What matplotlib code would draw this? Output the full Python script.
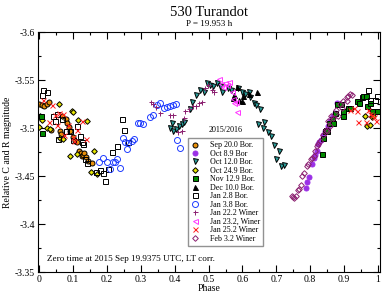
import numpy as np
import matplotlib
matplotlib.use("Agg")
import matplotlib.pyplot as plt
from matplotlib.ticker import MultipleLocator, FuncFormatter

plt.rcParams['font.family'] = ['Liberation Serif', 'DejaVu Serif']

# --- data (phase, relative magnitude) ---
sep20_ph = [0.0, 0.007, 0.015, 0.022, 0.029, 0.035, 0.06, 0.065, 0.078, 0.082, 0.087, 0.092,
            0.098, 0.105, 0.112, 0.118, 0.122, 0.125, 0.128, 0.133, 0.138, 0.145, 0.155]
sep20_mag = [-3.525, -3.524, -3.523, -3.525, -3.527, -3.498, -3.497, -3.494, -3.509, -3.505, -3.501, -3.497,
             -3.491, -3.486, -3.485, -3.476, -3.474, -3.471, -3.472, -3.474, -3.470, -3.466, -3.464]

oct8_ph = [0.788, 0.792, 0.798, 0.805, 0.810, 0.815, 0.820, 0.824, 0.827, 0.833, 0.839, 0.845,
           0.852, 0.859, 0.864, 0.869, 0.874, 0.879]
oct8_mag = [-3.438, -3.444, -3.449, -3.462, -3.469, -3.472, -3.476, -3.483, -3.485, -3.488, -3.493, -3.497,
            -3.502, -3.507, -3.510, -3.513, -3.516, -3.526]

oct12_ph = [0.386, 0.391, 0.396, 0.404, 0.412, 0.421, 0.426, 0.445, 0.450, 0.462, 0.475, 0.485, 0.495,
            0.504, 0.514, 0.524, 0.534, 0.539, 0.556, 0.566, 0.588, 0.598, 0.608, 0.618, 0.623, 0.634,
            0.640, 0.652, 0.647, 0.664, 0.662, 0.677, 0.684, 0.694, 0.709, 0.699, 0.713, 0.723]
oct12_mag = [-3.500, -3.505, -3.497, -3.499, -3.502, -3.504, -3.506, -3.520, -3.527, -3.534, -3.540, -3.537,
             -3.547, -3.545, -3.544, -3.547, -3.544, -3.538, -3.542, -3.540, -3.542, -3.537, -3.535, -3.538,
             -3.532, -3.526, -3.524, -3.520, -3.504, -3.506, -3.500, -3.496, -3.492, -3.482, -3.476, -3.468,
             -3.460, -3.461]

oct24_ph = [0.0, 0.003, 0.007, 0.024, 0.032, 0.058, 0.061, 0.068, 0.071, 0.091, 0.096, 0.098, 0.112,
            0.115, 0.14, 0.153, 0.16, 0.171, 0.963, 0.968, 0.977, 0.982, 0.987]
oct24_mag = [-3.501, -3.512, -3.508, -3.500, -3.499, -3.525, -3.490, -3.512, -3.489, -3.471, -3.518, -3.517,
             -3.473, -3.508, -3.507, -3.454, -3.476, -3.452, -3.513, -3.502, -3.503, -3.511, -3.512]

nov12_ph = [0.004, 0.009, 0.835, 0.838, 0.844, 0.847, 0.851, 0.857, 0.864, 0.867, 0.874, 0.879, 0.891,
            0.896, 0.898, 0.913, 0.918, 0.938, 0.943, 0.953, 0.957, 0.965, 0.967, 0.977, 0.982, 0.997]
nov12_mag = [-3.513, -3.495, -3.473, -3.490, -3.497, -3.498, -3.497, -3.505, -3.509, -3.505, -3.516, -3.525,
             -3.525, -3.512, -3.518, -3.521, -3.521, -3.528, -3.526, -3.532, -3.533, -3.533, -3.523, -3.526,
             -3.518, -3.518]

dec10_ph = [0.571, 0.576, 0.583, 0.589, 0.598, 0.603, 0.618, 0.644]
dec10_mag = [-3.531, -3.534, -3.543, -3.529, -3.528, -3.533, -3.535, -3.538]

jan2_ph = [0.007, 0.012, 0.022, 0.041, 0.045, 0.051, 0.056, 0.066, 0.079, 0.091, 0.100, 0.112, 0.120,
           0.125, 0.128, 0.135, 0.140, 0.168, 0.179, 0.187, 0.194, 0.204, 0.214, 0.230, 0.243, 0.250,
           0.263, 0.972, 0.977, 0.992, 0.999]
jan2_mag = [-3.534, -3.540, -3.538, -3.512, -3.507, -3.515, -3.489, -3.509, -3.497, -3.497, -3.487, -3.502,
            -3.492, -3.485, -3.483, -3.468, -3.464, -3.454, -3.456, -3.453, -3.445, -3.457, -3.475, -3.481,
            -3.509, -3.498, -3.485, -3.540, -3.529, -3.529, -3.533]

jan3_ph = [0.177, 0.189, 0.199, 0.209, 0.217, 0.224, 0.229, 0.238, 0.246, 0.253, 0.258, 0.263, 0.273,
           0.280, 0.290, 0.298, 0.307, 0.327, 0.335, 0.347, 0.355, 0.368, 0.378, 0.386, 0.396, 0.404,
           0.408, 0.416]
jan3_mag = [-3.465, -3.469, -3.465, -3.457, -3.465, -3.465, -3.468, -3.458, -3.490, -3.485, -3.478, -3.484,
            -3.486, -3.489, -3.505, -3.505, -3.504, -3.511, -3.514, -3.524, -3.526, -3.521, -3.522, -3.523,
            -3.524, -3.525, -3.488, -3.479]

jan22_ph = [0.330, 0.337, 0.345, 0.357, 0.386, 0.394, 0.411, 0.421, 0.426, 0.431, 0.443, 0.455, 0.463,
            0.473, 0.480, 0.490, 0.499, 0.509, 0.516]
jan22_mag = [-3.527, -3.525, -3.522, -3.516, -3.514, -3.514, -3.496, -3.497, -3.510, -3.518, -3.520, -3.523,
             -3.523, -3.526, -3.527, -3.542, -3.545, -3.540, -3.538]

jan23_ph = [0.531, 0.537, 0.542, 0.549, 0.553, 0.559, 0.569, 0.573, 0.576, 0.580, 0.585]
jan23_mag = [-3.551, -3.546, -3.543, -3.547, -3.545, -3.548, -3.538, -3.530, -3.526, -3.527, -3.517]

jan25_ph = [0.010, 0.029, 0.037, 0.046, 0.052, 0.059, 0.071, 0.073, 0.085, 0.099, 0.103, 0.112, 0.125,
            0.138, 0.918, 0.930, 0.938, 0.940, 0.965, 0.972, 0.978, 0.982, 0.990, 0.995]
jan25_mag = [-3.529, -3.506, -3.524, -3.514, -3.503, -3.516, -3.515, -3.493, -3.503, -3.491, -3.486, -3.498,
             -3.507, -3.489, -3.519, -3.521, -3.518, -3.506, -3.506, -3.519, -3.515, -3.514, -3.511, -3.507]

feb3_ph = [0.746, 0.750, 0.753, 0.759, 0.765, 0.768, 0.773, 0.777, 0.782, 0.790, 0.795, 0.802, 0.806,
           0.810, 0.815, 0.820, 0.824, 0.829, 0.837, 0.847, 0.851, 0.854, 0.859, 0.861, 0.869, 0.877,
           0.881, 0.889, 0.894, 0.898, 0.908, 0.910, 0.913, 0.918, 0.923]
feb3_mag = [-3.429, -3.428, -3.427, -3.429, -3.435, -3.436, -3.441, -3.450, -3.453, -3.460, -3.462, -3.468,
            -3.469, -3.471, -3.476, -3.481, -3.483, -3.486, -3.493, -3.498, -3.497, -3.507, -3.502, -3.512,
            -3.510, -3.519, -3.512, -3.525, -3.521, -3.528, -3.528, -3.532, -3.533, -3.535, -3.534]

fig = plt.figure(figsize=(3.82, 2.94), dpi=100)
ax = fig.add_axes([38 / 382, 1 - 272 / 294, (379.5 - 38) / 382, (272 - 32) / 294])

ms = 3.6
# (x, y, label, marker, face, edge)
series = [
    (sep20_ph, sep20_mag, 'Sep 20.0 Bor.', 'o', '#e8900a', 'black'),
    (oct8_ph, oct8_mag, 'Oct 8.9 Bor', 'o', '#9b30e6', '#9b30e6'),
    (oct12_ph, oct12_mag, 'Oct 12.0 Bor.', 'v', '#2a9d9a', 'black'),
    (oct24_ph, oct24_mag, 'Oct 24.9 Bor.', 'D', '#e6e600', 'black'),
    (nov12_ph, nov12_mag, 'Nov 12.9 Bor.', 's', '#008a00', 'black'),
    (dec10_ph, dec10_mag, 'Dec 10.0 Bor.', '^', 'black', 'black'),
    (jan2_ph, jan2_mag, 'Jan 2.8 Bor.', 's', 'none', 'black'),
    (jan3_ph, jan3_mag, 'Jan 3.8 Bor.', 'o', 'none', '#1f3cff'),
    (jan22_ph, jan22_mag, 'Jan 22.2 Winer', '+', '#8b2070', '#8b2070'),
    (jan23_ph, jan23_mag, 'Jan 23.2, Winer', '<', 'none', '#ff33ff'),
    (jan25_ph, jan25_mag, 'Jan 25.2 Winer', 'x', '#ff2020', '#ff2020'),
    (feb3_ph, feb3_mag, 'Feb 3.2 Winer', 'D', 'none', '#8b2070'),
]

for x, y, lab, mk, fc, ec in series:
    size = ms
    if mk == 'D':
        size = ms * 0.8
    if mk == 'o' and fc == 'none':
        size = ms * 1.2
    ax.plot(x, y, linestyle='none', marker=mk, markersize=size, markerfacecolor=fc,
            markeredgecolor=ec, markeredgewidth=0.7, label=lab)

ax.set_xlim(-0.004, 1.005)
ax.set_ylim(-3.35, -3.6)

ax.xaxis.set_major_locator(MultipleLocator(0.1))
ax.xaxis.set_minor_locator(MultipleLocator(0.05))
ax.yaxis.set_major_locator(MultipleLocator(0.05))
ax.yaxis.set_minor_locator(MultipleLocator(0.025))
ax.xaxis.set_major_formatter(FuncFormatter(lambda v, p: '%g' % round(v, 3)))
ax.yaxis.set_major_formatter(FuncFormatter(lambda v, p: '%g' % round(v, 3)))
ax.tick_params(which='both', direction='in', top=True, right=True, labelsize=7, pad=2)
ax.tick_params(which='major', length=5, width=0.8)
ax.tick_params(which='minor', length=2.5, width=0.8)
for s in ax.spines.values():
    s.set_linewidth(0.8)

ax.set_xlabel('Phase', fontsize=7, labelpad=0)
ax.set_ylabel('Relative C and R magnitude', fontsize=7, labelpad=2)

fig.text(0.5 * (38 + 379.5) / 382, 1 - 12 / 294, '530 Turandot', ha='center', va='center', fontsize=10.5)
fig.text(0.5 * (38 + 379.5) / 382, 1 - 24 / 294, 'P = 19.953 h', ha='center', va='center', fontsize=6.6)

ax.text(0.025, 0.055, 'Zero time at 2015 Sep 19.9375 UTC, LT corr.', transform=ax.transAxes,
        fontsize=6.6, va='center', ha='left')

leg = ax.legend(loc='upper left', bbox_to_anchor=(188 / 382, 1 - 138 / 294),
                bbox_transform=fig.transFigure, fontsize=5.8, frameon=True, fancybox=False,
                handlelength=1.0, handletextpad=1.3, labelspacing=0.06, borderpad=0.4,
                borderaxespad=0, numpoints=1, handleheight=0.6)
leg.get_frame().set_edgecolor('#777777')
leg.get_frame().set_linewidth(1.0)
fig.text(226 / 382, 1 - 130.5 / 294, '2015/2016', ha='center', va='center', fontsize=5.8)

fig.savefig('out.png', dpi=100)
